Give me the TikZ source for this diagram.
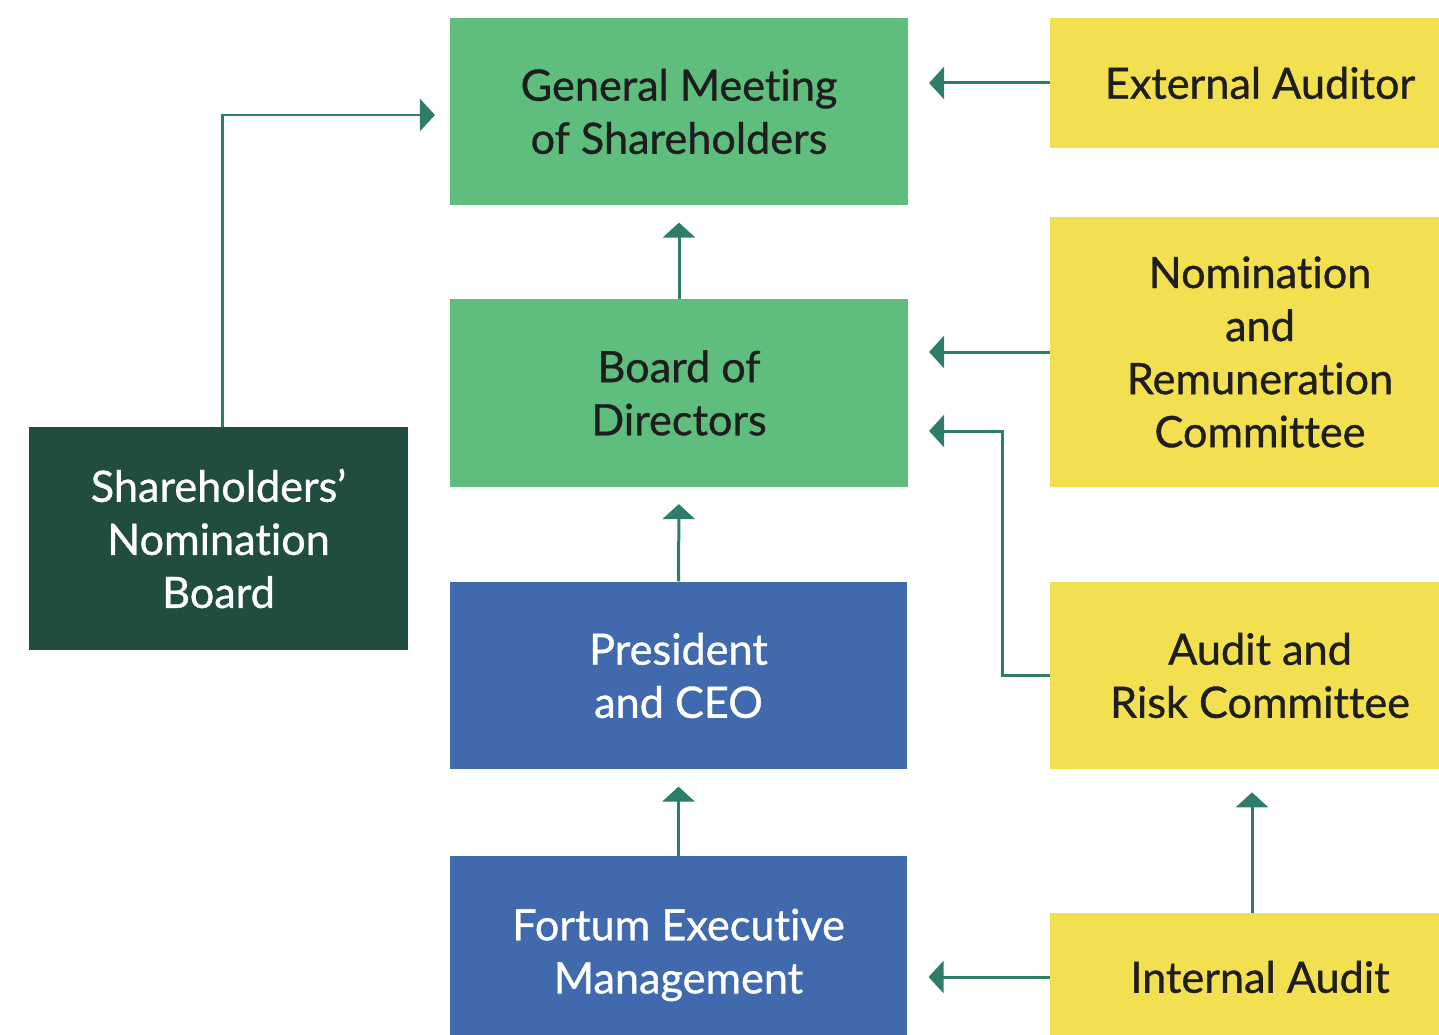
\documentclass[tikz,border=0pt]{standalone}
\usepackage{fontspec}
\setmainfont[Ligatures=NoCommon,FakeBold=0.8]{Lato}
\usetikzlibrary{arrows.meta,calc}
\definecolor{meetgreen}{HTML}{5FBE7E}
\definecolor{ceoblue}{HTML}{4169AE}
\definecolor{boardgreen}{HTML}{214D40}
\definecolor{audityellow}{HTML}{F2E050}
\definecolor{linkteal}{HTML}{2E7D6B}
\definecolor{inkdark}{HTML}{1E1E1E}
\begin{document}
\begin{tikzpicture}
		[x=0.02cm,y=-0.02cm,
		box/.style={rectangle,inner sep=0pt,align=center,font=\fontsize{24.6}{30.2}\selectfont},
		mid/.style={box,minimum width=9.15cm,minimum height=3.75cm},
		side/.style={box,minimum width=8.4cm,fill=audityellow,text=inkdark},
		link/.style={->,linkteal,line width=0.06cm,shorten >=0.42cm},
		>={Triangle[length=0.3cm,width=0.64cm]}]
		\useasboundingbox (0,0) rectangle (1439,1034);
		\node[mid,fill=meetgreen,text=inkdark,name=gms]at(679,111.5){General Meeting\\of Shareholders};
		\node[mid,fill=meetgreen,text=inkdark,name=bod]at(679,393){Board of\\Directors};
		\node[mid,fill=ceoblue,text=white,name=ceo]at(678.5,675.5){President\\and CEO};
		\node[mid,fill=ceoblue,text=white,minimum height=3.96cm,name=fem]at(678.5,955){Fortum Executive\\Management};
		\node[box,fill=boardgreen,text=white,minimum width=7.58cm,minimum height=4.46cm,name=snb]at(218.5,538.5){Shareholders'\\Nomination\\Board};
		\node[side,minimum height=2.6cm,name=ext]at(1260,83){External Auditor};
		\node[side,minimum height=5.4cm,name=nrc]at(1260,352){Nomination\\and\\Remuneration\\Committee};
		\node[side,minimum height=3.74cm,name=arc]at(1260,675.5){Audit and\\Risk Committee};
		\node[side,minimum height=2.56cm,name=ia]at(1260,977){Internal Audit};
		% reporting lines
		\draw[link,shorten >=0.34cm] (bod) -- (gms);
		\draw[link,shorten >=0.34cm] (ceo) -- (bod);
		\draw[link,shorten >=0.34cm] (fem.north) -- (fem.north |- ceo.south);
		\draw[link,shorten >=0.3cm] ([xshift=0.07cm]snb.north) |- ([yshift=-0.07cm]gms.west);
		\draw[link] (ext.west) -- (ext.west -| gms.east);
		\draw[link] (nrc.west) -- (nrc.west -| bod.east);
		\draw[link] (arc.west) -- ++(-47,0) |- ($(bod.east)+(0,38)$);
		\draw[link] (ia.west) -- (ia.west -| fem.east);
		\draw[link,shorten >=0.46cm] (ia.north -| 1252,0) -- (arc.south -| 1252,0);
	\end{tikzpicture}
\end{document}
